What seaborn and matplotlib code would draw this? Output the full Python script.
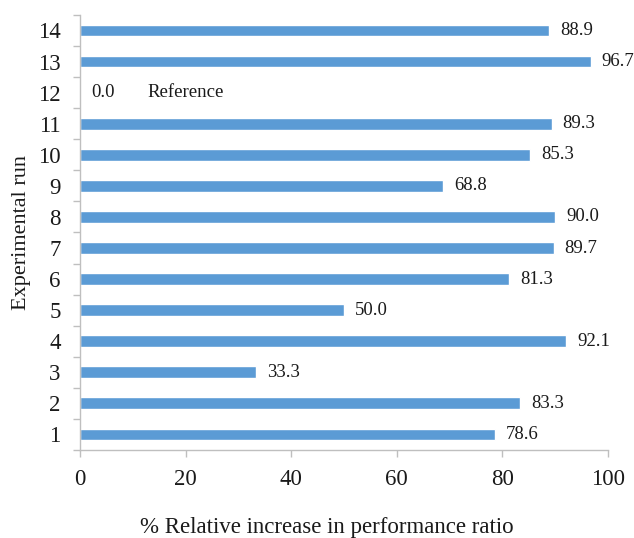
import matplotlib
matplotlib.use("Agg")
import matplotlib.pyplot as plt
import seaborn as sns
import pandas as pd
import numpy as np

runs = ["14", "13", "12", "11", "10", "9", "8", "7", "6", "5", "4", "3", "2", "1"]
increase = [88.9, 96.7, 0.0, 89.3, 85.3, 68.8, 90.0, 89.7, 81.3, 50.0, 92.1, 33.3, 83.3, 78.6]
reference_run = "12"
x_ticks = [0, 20, 40, 60, 80, 100]

sns.set_theme(style="white")
plt.rcParams["font.family"] = ["Liberation Serif", "DejaVu Serif"]

df = pd.DataFrame({"run": runs, "increase": increase})

fig = plt.figure(figsize=(6.34, 5.38), dpi=100)
ax = fig.add_axes([0.1262, 0.1636, 0.8328, 0.8086])

sns.barplot(data=df, x="increase", y="run", order=runs, orient="h",
            color="#5B9BD5", saturation=1, width=0.38, ax=ax)

text_color = "#1a1a1a"
for i, (r, v) in enumerate(zip(runs, increase)):
    ax.annotate(f"{v:.1f}", xy=(v, i), xytext=(8, 0),
                textcoords="offset points", va="center", ha="left",
                fontsize=13.5, color=text_color)
    if r == reference_run:
        ax.text(12.7, i, "Reference", va="center", ha="left",
                fontsize=13.5, color=text_color)

ax.set_xlim(0, 100)
ax.set_ylim(len(runs) - 0.5, -0.5)
ax.set_xticks(x_ticks)
ax.set_xticklabels([str(t) for t in x_ticks], fontsize=16.5, color=text_color)
ax.tick_params(axis="x", length=5, width=1, color="#bfbfbf", pad=9,
               direction="out", bottom=True)
ax.set_yticks(np.arange(len(runs)))
ax.set_yticklabels(runs, fontsize=16.5, color=text_color)
ax.tick_params(axis="y", which="major", length=0, pad=14)
ax.set_yticks(np.arange(len(runs) + 1) - 0.5, minor=True)
ax.tick_params(axis="y", which="minor", length=5, width=1, color="#bfbfbf",
               direction="out", left=True)

for side in ["top", "right"]:
    ax.spines[side].set_visible(False)
for side in ["left", "bottom"]:
    ax.spines[side].set_color("#bfbfbf")
    ax.spines[side].set_linewidth(1)

ax.set_xlabel("% Relative increase in performance ratio", fontsize=16.5,
              color=text_color, va="center")
ax.xaxis.set_label_coords(0.467, -0.179)
ax.set_ylabel("Experimental run", fontsize=16, color=text_color, va="center")
ax.yaxis.set_label_coords(-0.11, 0.5)

fig.savefig("out.png", dpi=100, facecolor="white")
